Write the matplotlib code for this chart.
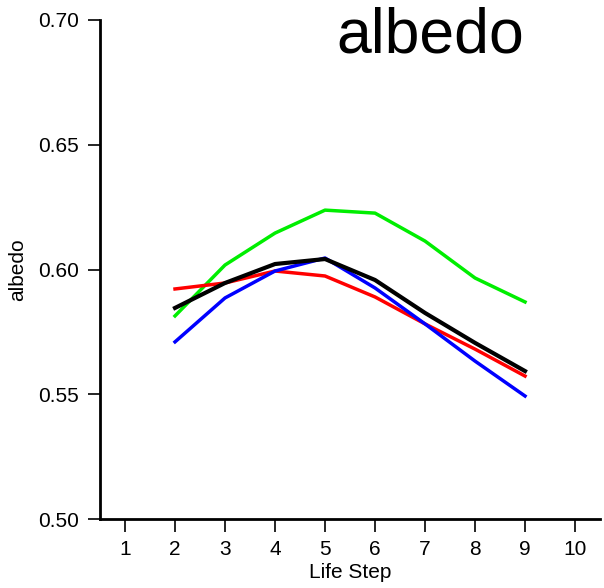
import matplotlib
matplotlib.use('Agg')
import matplotlib.pyplot as plt

plt.rcParams['font.family'] = ['Liberation Sans', 'DejaVu Sans']

steps = [2, 3, 4, 5, 6, 7, 8, 9]
green = [0.5814, 0.6018, 0.6146, 0.6238, 0.6226, 0.6114, 0.5966, 0.5870]
black = [0.5846, 0.5946, 0.6022, 0.6042, 0.5958, 0.5826, 0.5706, 0.5593]
red = [0.5922, 0.5946, 0.5994, 0.5974, 0.5890, 0.5782, 0.5681, 0.5573]
blue = [0.5710, 0.5886, 0.5994, 0.6046, 0.5926, 0.5782, 0.5633, 0.5493]

xticks = list(range(1, 11))
yticks = [0.50, 0.55, 0.60, 0.65, 0.70]

fig = plt.figure(figsize=(6.04, 5.88), dpi=100)
ax = fig.add_axes([0.1656, 0.1173, 0.8278, 0.8487])

ax.plot(steps, green, color='#00ee00', lw=2.5)
ax.plot(steps, red, color='#ff0000', lw=2.5)
ax.plot(steps, blue, color='#0000ff', lw=2.5)
ax.plot(steps, black, color='black', lw=3)

ax.set_xlim(0.5, 10.5)
ax.set_ylim(0.50, 0.70)
ax.set_xticks(xticks)
ax.set_yticks(yticks)
ax.set_yticklabels(['%.2f' % v for v in yticks])
ax.spines['top'].set_visible(False)
ax.spines['right'].set_visible(False)
ax.spines['left'].set_linewidth(2)
ax.spines['bottom'].set_linewidth(2)
ax.tick_params(direction='out', length=9, width=1.2, labelsize=15, pad=6)
ax.set_xlabel('Life Step', fontsize=15, labelpad=3)
ax.set_ylabel('albedo', fontsize=15, labelpad=8)
ax.text(0.66, 0.968, 'albedo', transform=ax.transAxes, fontsize=45,
        ha='center', va='center')

fig.savefig('out.png', dpi=100)
